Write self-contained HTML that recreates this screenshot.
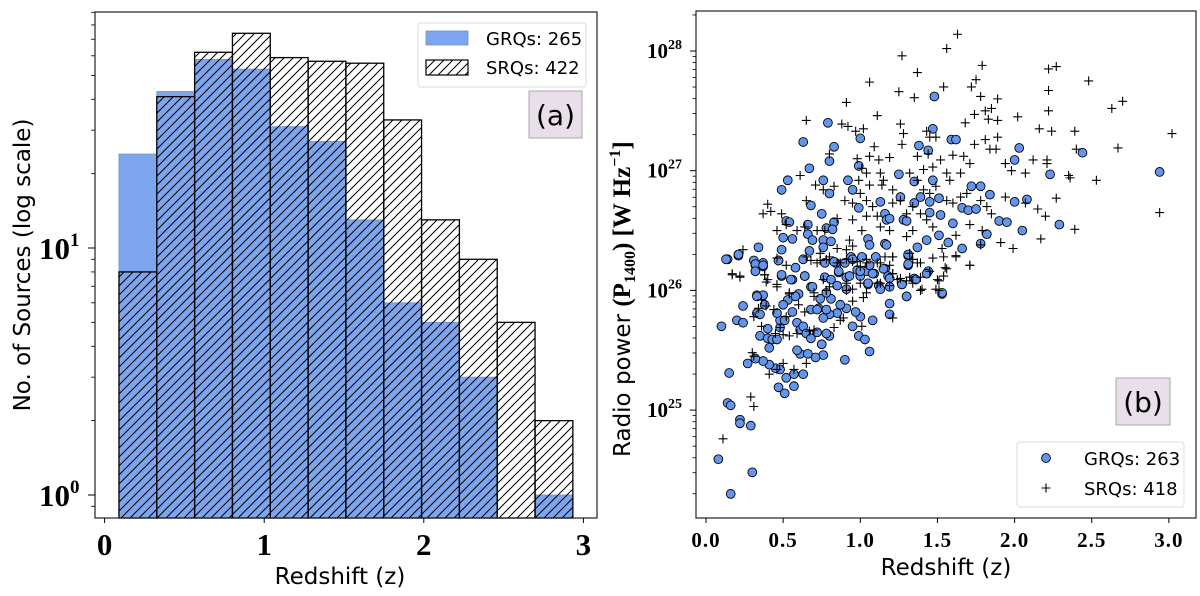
<!DOCTYPE html>
<html><head><meta charset="utf-8"><style>
html,body{margin:0;padding:0;background:#fff;}
svg{display:block;}
.tk{font-family:"Liberation Serif",serif;font-weight:bold;fill:#000;}
.lb{font-family:"DejaVu Sans","Liberation Sans",sans-serif;fill:#000;}
</style></head><body>
<svg id="fig" width="1200" height="596" viewBox="0 0 1200 596" xmlns="http://www.w3.org/2000/svg">
<defs>
<pattern id="hatch" patternUnits="userSpaceOnUse" width="9" height="9">
<path d="M0,9 L9,0 M-2,2 L2,-2 M7,11 L11,7" stroke="#000" stroke-width="1"/>
</pattern>
</defs>
<g id="left"></g>
<g id="right"></g>
</svg>
<script>
// ---- Histogram data (panel a) ----
const binEdges = [0.09,0.327,0.564,0.801,1.038,1.275,1.512,1.749,1.986,2.223,2.46,2.697,2.934];
const grqCounts = [24,43,58,53,31,27,13,6,5,3,0,1];
const srqCounts = [8,41,62,74,59,57,56,33,13,9,5,2];
const histXTicks = [0,1,2,3];
const histYTicks = [0,1];

// ---- Scatter data (panel b): redshift and log10 radio power ----
const grqZ = [1.48,0.79,0.63,1.00,0.83,1.47,1.38,1.44,1.59,1.62,2.03,2.44,0.80,0.67,0.99,0.53,0.49,0.76,0.92,0.95,0.80,1.25,1.35,1.47,2.00,2.23,2.94,1.72,1.78,1.84,2.00,2.08,0.68,0.75,0.99,1.13,1.26,1.35,1.39,1.45,1.45,1.51,1.66,1.70,1.75,1.52,1.60,1.90,1.95,2.05,2.29,0.52,0.54,0.83,0.66,0.78,0.82,0.66,0.69,0.76,0.81,0.50,0.56,0.49,0.34,0.21,0.14,0.31,0.37,0.32,0.37,0.32,0.47,0.63,0.67,0.76,0.84,0.90,0.94,1.01,1.10,1.06,1.16,1.18,1.16,1.16,1.17,1.19,1.05,1.06,1.17,1.28,1.30,1.37,1.43,1.57,1.51,1.66,1.82,1.78,1.31,1.31,1.44,1.35,1.27,0.49,0.56,0.64,0.68,0.77,0.81,0.86,0.91,0.98,1.00,1.04,1.09,1.12,1.05,1.30,1.53,0.33,0.60,
0.13,0.21,0.32,0.37,0.32,0.47,0.58,0.64,0.49,0.55,0.77,0.83,0.95,1.06,1.00,1.08,1.15,1.19,1.19,1.13,1.05,0.93,0.86,0.91,0.85,0.81,0.74,0.78,0.73,0.68,0.69,1.31,1.31,1.27,1.30,1.36,1.43,1.53,1.19,1.19,1.08,1.00,0.97,0.95,0.99,1.03,1.06,0.90,0.80,0.75,0.76,0.71,0.61,0.66,0.59,0.57,0.52,0.47,0.51,0.57,0.63,0.48,0.45,0.41,0.37,0.32,0.27,0.35,0.40,0.40,0.43,0.46,0.41,0.48,0.48,0.46,0.38,0.33,0.35,0.37,0.33,0.24,0.20,0.24,0.10,0.15,0.14,0.16,0.22,0.22,0.29,0.08,0.30,0.16,0.53,0.58,0.50,0.56,0.51,0.59,0.61,0.63,0.65,0.68,0.72,0.78,0.85,0.91,0.87,0.80,0.76,0.72,0.78];
const grqLogP = [27.62,27.40,27.24,27.27,27.20,27.35,27.21,27.17,27.26,27.26,27.19,27.15,27.08,27.02,27.04,26.92,26.84,26.92,26.92,26.84,26.81,26.97,26.91,26.92,27.09,26.97,26.99,26.87,26.87,26.80,26.74,26.76,26.71,26.64,26.69,26.74,26.78,26.73,26.78,26.74,26.65,26.77,26.69,26.67,26.68,26.63,26.56,26.58,26.57,26.50,26.55,26.58,26.57,26.57,26.55,26.52,26.51,26.47,26.42,26.42,26.41,26.44,26.43,26.34,26.36,26.29,26.26,26.25,26.23,26.21,26.20,26.16,26.25,26.26,26.33,26.36,26.23,26.23,26.28,26.28,26.28,26.21,26.18,26.12,26.39,26.64,26.59,26.60,26.43,26.38,26.38,26.59,26.58,26.36,26.42,26.40,26.46,26.35,26.47,26.39,26.29,26.21,26.16,26.10,26.05,26.12,26.09,26.12,26.03,26.11,26.09,26.15,26.11,26.17,26.12,26.16,26.14,26.04,26.05,25.95,25.97,25.96,25.97,
26.26,26.30,26.22,26.21,26.16,26.25,26.19,26.12,26.13,26.09,26.23,26.24,26.26,26.21,26.16,26.14,26.18,26.10,26.03,26.01,26.06,26.12,26.16,26.01,26.04,25.93,25.93,25.98,25.85,25.84,26.03,26.30,26.22,26.05,25.95,26.09,26.14,25.98,25.89,25.80,25.75,25.78,25.82,25.70,25.62,25.59,25.49,25.42,25.62,25.55,25.46,25.44,25.47,25.47,25.50,25.30,25.27,25.19,25.14,25.20,25.30,25.34,25.35,25.38,25.41,25.43,25.39,25.62,25.68,25.60,25.59,25.59,25.52,25.69,25.75,25.81,25.88,25.81,25.80,25.96,25.95,25.87,25.75,25.73,25.70,25.31,25.06,25.04,24.92,24.89,24.87,24.59,24.48,24.30,25.92,25.95,25.88,25.82,25.75,25.73,25.67,25.70,25.64,25.60,25.65,25.64,25.81,25.85,25.88,25.80,25.77,25.84,25.84];
const srqZ = [1.63,1.56,1.27,1.79,1.37,1.06,2.22,2.27,2.48,1.25,1.35,1.54,1.72,1.75,1.78,1.89,1.85,1.81,1.74,1.68,1.83,1.89,2.02,2.22,2.22,2.63,2.70,0.91,1.11,0.65,0.88,0.92,0.97,1.02,1.26,1.28,1.43,1.49,1.45,1.27,1.09,0.80,0.98,1.06,1.12,1.19,1.37,1.44,1.60,1.67,1.74,1.81,1.89,1.84,1.88,2.16,2.24,2.39,3.02,2.40,2.67,2.12,2.21,2.21,1.94,1.98,2.07,2.35,2.36,2.53,2.27,1.94,2.07,2.94,2.15,2.20,2.39,2.17,1.99,1.91,1.85,1.71,1.79,1.78,1.71,1.62,1.62,1.54,1.53,1.56,1.50,1.37,1.21,1.19,1.30,1.34,1.26,1.21,1.14,1.06,1.00,0.95,0.90,0.83,0.76,0.71,0.65,0.61,0.40,0.37,0.42,0.49,0.52,0.46,0.59,0.64,0.72,0.77,0.85,0.95,1.01,1.04,1.11,1.13,1.19,1.32,0.93,0.95,0.91,0.85,0.74,0.68,0.65,0.74,0.80,0.87,0.95,1.00,1.04,1.11,1.16,1.21,1.26,1.32,1.39,1.45,1.51,1.39,1.19,1.11,1.00,0.91,0.78,0.70,0.54,0.46,0.38,0.39,0.17,0.22,0.24,1.01,1.04,0.99,1.13,1.15,1.32,1.37,1.41,1.47,1.52,1.56,1.58,1.65,1.71,1.41,1.45,1.49,1.56,1.60,1.65,1.69,1.78,1.82,1.34,1.39,1.43,1.47,1.30,1.21,1.08,1.04,
0.17,0.22,0.46,0.38,0.40,0.46,0.52,0.54,0.60,0.64,0.70,0.72,0.78,0.85,0.91,0.98,1.04,1.13,1.21,1.21,1.13,1.04,1.02,0.95,0.89,0.83,0.87,0.70,0.67,0.59,0.54,0.50,0.48,0.44,0.39,0.36,0.34,0.31,0.30,0.31,0.41,0.46,0.57,0.65,0.50,0.29,0.31,0.11,1.24,1.30,1.34,1.40,1.51,1.55,1.54,1.62,1.71,1.49,1.21,1.01,0.45,0.52,0.36,1.34,1.39,1.47,0.80,0.76,0.91,0.95];
const srqLogP = [28.14,28.02,27.96,27.88,27.82,27.74,27.85,27.87,27.75,27.66,27.61,27.70,27.70,27.76,27.62,27.60,27.52,27.50,27.47,27.40,27.43,27.42,27.45,27.67,27.50,27.52,27.58,27.57,27.46,27.42,27.39,27.37,27.33,27.35,27.39,27.31,27.33,27.28,27.28,27.22,27.20,27.14,27.10,27.12,27.09,27.11,27.12,27.14,27.13,27.12,27.22,27.26,27.28,27.18,27.18,27.35,27.33,27.33,27.31,27.18,27.19,27.09,27.09,27.06,27.06,27.00,26.98,26.96,26.94,26.92,26.77,26.78,26.73,26.65,26.68,26.62,26.51,26.43,26.35,26.40,26.64,26.55,26.50,26.38,26.21,26.28,26.46,26.28,26.35,26.18,26.09,26.23,26.28,26.21,26.45,26.50,26.75,26.84,26.88,26.88,26.81,26.73,26.75,26.87,26.84,26.88,26.75,26.96,26.72,26.64,26.66,26.64,26.55,26.50,26.50,26.53,26.50,26.50,26.60,26.59,26.50,26.62,26.62,26.53,26.50,26.31,26.42,26.37,26.34,26.35,26.31,26.25,26.28,26.25,26.28,26.23,26.24,26.20,26.23,26.23,26.28,26.14,26.10,26.11,26.11,26.16,26.00,26.00,26.04,26.06,26.06,26.00,26.00,25.95,25.97,26.03,26.13,26.07,26.13,26.11,26.34,27.02,26.98,26.92,26.98,26.92,26.98,26.92,27.01,27.03,27.09,26.98,26.92,26.98,27.06,26.84,26.81,26.87,26.75,26.73,26.78,26.81,26.75,26.70,26.70,26.64,26.59,26.53,26.64,26.73,26.70,26.75,
26.14,26.12,26.27,26.13,26.09,26.05,26.21,25.98,25.88,25.82,25.98,26.23,26.26,26.23,26.26,26.24,26.26,26.23,26.28,26.14,26.06,25.98,25.94,25.91,25.77,25.69,25.75,25.67,25.66,25.64,25.62,25.63,25.69,25.84,25.87,25.92,25.85,25.78,25.48,25.45,25.30,25.34,25.34,25.39,25.39,25.11,25.03,24.76,26.09,26.08,26.06,26.01,26.08,26.19,26.12,26.29,26.21,26.01,25.77,25.70,25.64,25.78,25.70,26.26,26.23,26.27,26.03,26.09,26.06,26.01];
const scatXTicks = [0.0,0.5,1.0,1.5,2.0,2.5,3.0];
const scatYTicks = [25,26,27,28];

const NS='http://www.w3.org/2000/svg';
function mk(tag, attrs, parent){const e=document.createElementNS(NS,tag);for(const k in attrs)e.setAttribute(k,attrs[k]);parent.appendChild(e);return e;}

// ===== Panel (a) =====
const L=document.getElementById('left');
const aX0=95,aX1=597,aY0=12,aY1=518;
const hx=z=>104.6+z*159.6;
const hy=v=>495-Math.log10(v)*247;
for(let i=0;i<grqCounts.length;i++){
  if(grqCounts[i]<=0)continue;
  const x0=hx(binEdges[i]),x1=hx(binEdges[i+1]),y=hy(grqCounts[i]);
  const r=mk('rect',{x:x0,y:y,width:x1-x0,height:aY1-y,fill:'#7ea6ee',stroke:'#6d8fcf','stroke-width':0.8},L);
  
  
}
for(let i=0;i<srqCounts.length;i++){
  if(srqCounts[i]<=0)continue;
  const x0=hx(binEdges[i]),x1=hx(binEdges[i+1]),y=hy(srqCounts[i]);
  const r=mk('rect',{x:x0,y:y,width:x1-x0,height:aY1-y,fill:'url(#hatch)',stroke:'#000','stroke-width':1.3},L);
  
  
}
mk('rect',{x:aX0,y:aY0,width:aX1-aX0,height:aY1-aY0,fill:'none',stroke:'#222','stroke-width':1.2},L);
histXTicks.forEach(t=>{
  const x=hx(t);
  mk('line',{x1:x,x2:x,y1:aY1,y2:aY1+5,stroke:'#000','stroke-width':1},L);
  const tx=mk('text',{x:x,y:aY1+37,'text-anchor':'middle','font-size':31,class:'tk'},L);
  tx.textContent=t;
  
  
});
histYTicks.forEach(p=>{
  const y=hy(Math.pow(10,p));
  mk('line',{x1:aX0-7,x2:aX0,y1:y,y2:y,stroke:'#000','stroke-width':1},L);
  const tx=mk('text',{x:39,y:y+11,'text-anchor':'start','font-size':31,class:'tk'},L);
  tx.textContent='10';
  const s=mk('tspan',{dy:-13,'font-size':19},tx); s.textContent=p;
  
  
  for(let m=2;m<=9;m++){
    const yy=hy(m*Math.pow(10,p));
    if(yy>aY0&&yy<aY1) mk('line',{x1:aX0-4,x2:aX0,y1:yy,y2:yy,stroke:'#000','stroke-width':0.8},L);
  }
});
{const yy=hy(0.9);mk('line',{x1:aX0-4,x2:aX0,y1:yy,y2:yy,stroke:'#000','stroke-width':0.8},L);}
let t=mk('text',{x:340,y:584,'text-anchor':'middle','font-size':23,class:'lb'},L);t.textContent='Redshift (z)';

t=mk('text',{x:0,y:0,'text-anchor':'middle','font-size':23,class:'lb',transform:'translate(30,265) rotate(-90)'},L);t.textContent='No. of Sources (log scale)';

// legend a
const lgA=mk('g',{},L);
mk('rect',{x:418,y:23,width:168,height:64,rx:3,fill:'#fff',stroke:'#ddd','stroke-width':1},lgA);
mk('rect',{x:426,y:31,width:42,height:14,fill:'#7ea6ee',stroke:'#6d8fcf','stroke-width':0.8},lgA);
mk('rect',{x:426,y:60,width:42,height:15,fill:'url(#hatch)',stroke:'#000','stroke-width':1.2},lgA);
t=mk('text',{x:486,y:45,'font-size':18,class:'lb'},lgA);t.textContent='GRQs:  265';
t=mk('text',{x:486,y:74,'font-size':18,class:'lb'},lgA);t.textContent='SRQs:  422';
mk('rect',{x:529,y:91,width:53,height:47,fill:'#e9dfea',stroke:'#aaa','stroke-width':1},L);
t=mk('text',{x:555.5,y:125,'text-anchor':'middle','font-size':28,class:'lb'},L);t.textContent='(a)';


// ===== Panel (b) =====
const R=document.getElementById('right');
const bX0=696,bX1=1196,bY0=11,bY1=518;
const sx=z=>706+z*154.3;
const sy=lp=>51+(28-lp)*119.7;
mk('rect',{x:bX0,y:bY0,width:bX1-bX0,height:bY1-bY0,fill:'none',stroke:'#222','stroke-width':1.2},R);
for(let i=0;i<grqZ.length;i++){
  const c=mk('circle',{cx:sx(grqZ[i]),cy:sy(grqLogP[i]),r:4.4,fill:'#6495ed',stroke:'#000','stroke-width':0.9},R);
  
  
}
for(let i=0;i<srqZ.length;i++){
  const x=sx(srqZ[i]),y=sy(srqLogP[i]);
  const p=mk('path',{d:`M${x-4.5},${y}H${x+4.5}M${x},${y-4.5}V${y+4.5}`,stroke:'#000','stroke-width':1.1,fill:'none'},R);
  
  
}
scatXTicks.forEach(v=>{
  const x=sx(v);
  mk('line',{x1:x,x2:x,y1:bY1,y2:bY1+5,stroke:'#000','stroke-width':1},R);
  const tx=mk('text',{x:x,y:bY1+29,'text-anchor':'middle','font-size':21,class:'tk','letter-spacing':1},R);
  tx.textContent=v.toFixed(1);
  
  
});
scatYTicks.forEach(p=>{
  const y=sy(p);
  mk('line',{x1:bX0-6,x2:bX0,y1:y,y2:y,stroke:'#000','stroke-width':1},R);
  const tx=mk('text',{x:647,y:y+7,'text-anchor':'start','font-size':21,class:'tk'},R);
  tx.textContent='10';
  const s=mk('tspan',{dy:-9,'font-size':14},tx); s.textContent=p;
  
  
});
for(let p=24;p<=28;p++){for(let m=2;m<=9;m++){const yy=sy(p+Math.log10(m));if(yy>bY0&&yy<bY1)mk('line',{x1:bX0-3.5,x2:bX0,y1:yy,y2:yy,stroke:'#000','stroke-width':0.8},R);}}
t=mk('text',{x:946,y:575,'text-anchor':'middle','font-size':23,class:'lb'},R);t.textContent='Redshift (z)';

t=mk('text',{x:0,y:0,'text-anchor':'start','font-size':23,class:'lb',transform:'translate(630,457) rotate(-90)'},R);

let s1=mk('tspan',{},t);s1.textContent='Radio power ';
let s2=mk('tspan',{class:'tk','font-size':25},t);s2.textContent='(P';
let s3=mk('tspan',{class:'tk','font-size':16,dy:5},t);s3.textContent='1400';
let s4=mk('tspan',{class:'tk','font-size':25,dy:-5},t);s4.textContent=') [W Hz';
let s5=mk('tspan',{class:'tk','font-size':16,dy:-10},t);s5.textContent='−1';
let s6=mk('tspan',{class:'tk','font-size':25,dy:10},t);s6.textContent=']';
const lgB=mk('g',{},R);
mk('rect',{x:1017,y:442,width:167,height:65,rx:3,fill:'#fff',stroke:'#ddd','stroke-width':1},lgB);
mk('circle',{cx:1046,cy:458,r:4.4,fill:'#6495ed',stroke:'#000','stroke-width':0.9},lgB);
mk('path',{d:'M1041.5,488H1050.5M1046,483.5V492.5',stroke:'#000','stroke-width':1.1},lgB);
t=mk('text',{x:1084,y:465,'font-size':18,class:'lb'},lgB);t.textContent='GRQs:  263';
t=mk('text',{x:1084,y:495,'font-size':18,class:'lb'},lgB);t.textContent='SRQs:  418';
mk('rect',{x:1116,y:378,width:54,height:47,fill:'#e9dfea',stroke:'#aaa','stroke-width':1},R);
t=mk('text',{x:1143,y:412,'text-anchor':'middle','font-size':28,class:'lb'},R);t.textContent='(b)';

</script>
</body></html>
